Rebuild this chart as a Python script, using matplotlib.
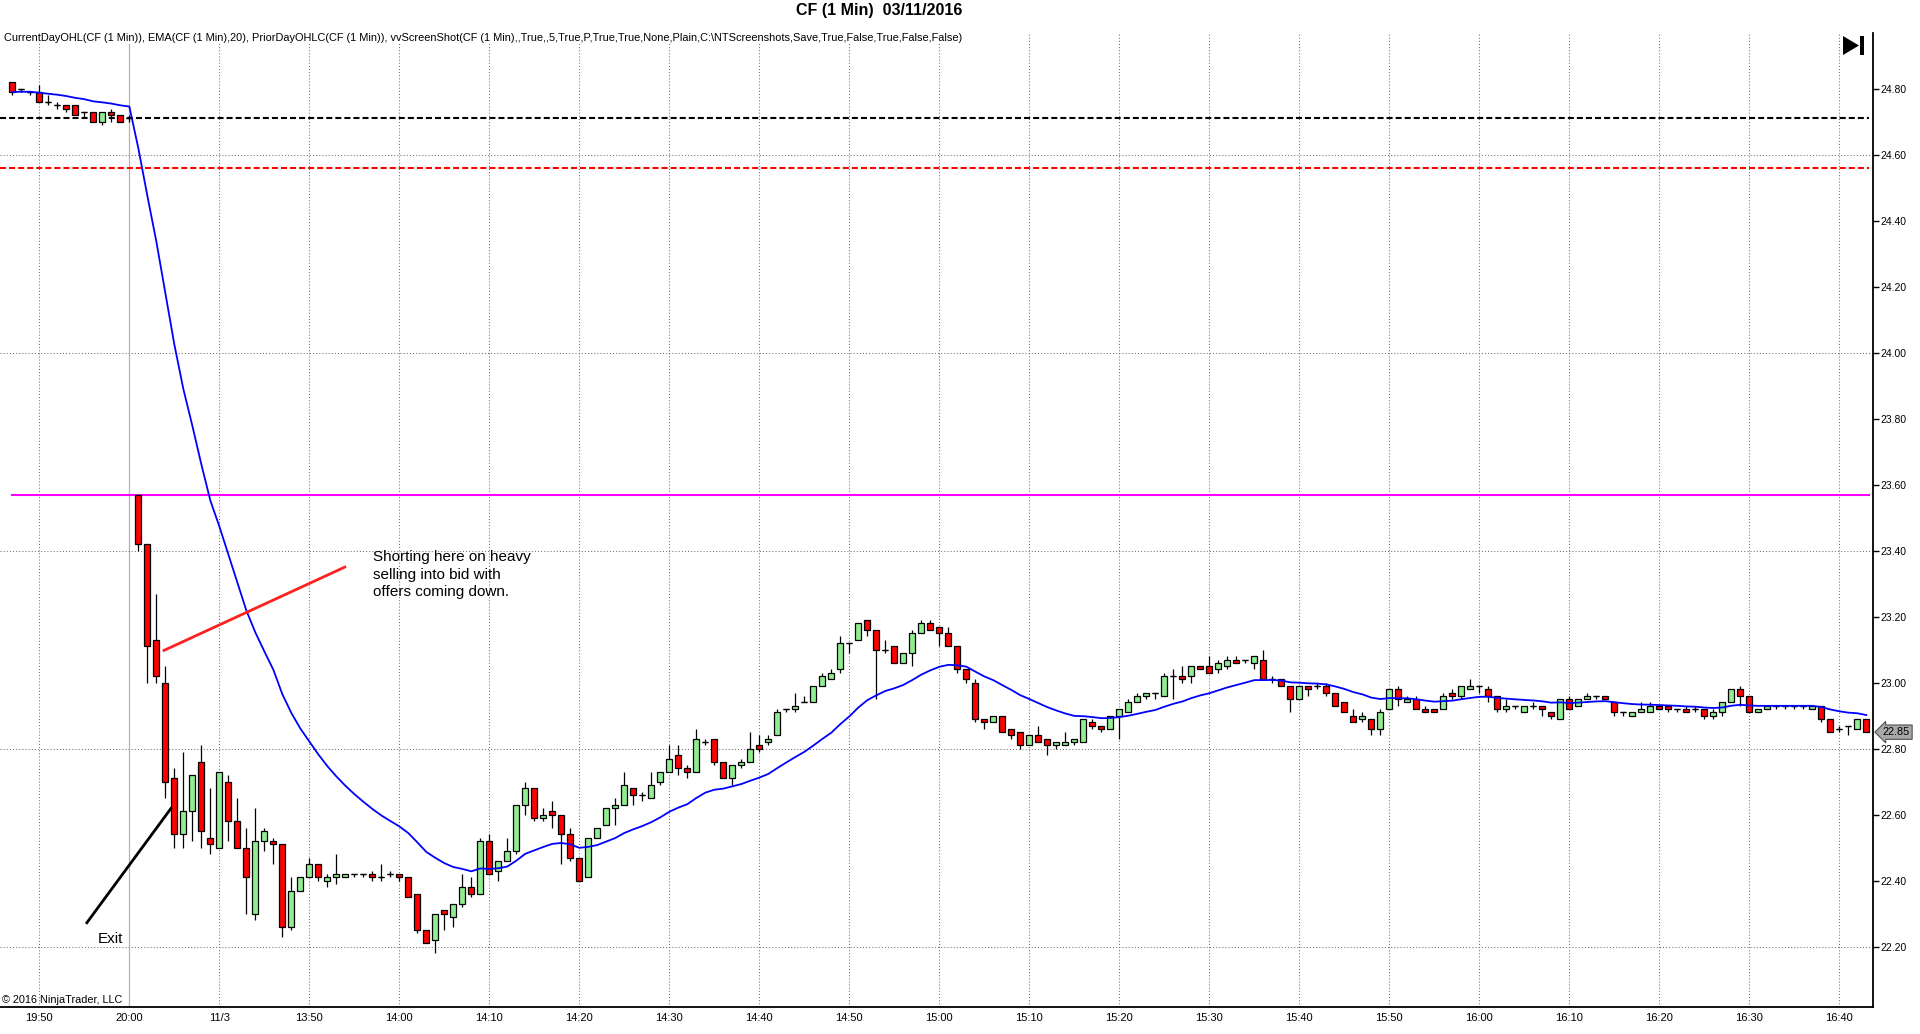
import numpy as np
import pandas as pd
import matplotlib
matplotlib.use("Agg")
import matplotlib.pyplot as plt
from matplotlib.patches import Polygon, Rectangle

plt.rcParams['font.family'] = ['Liberation Sans', 'DejaVu Sans']

# ---------------- data (1-minute bars) ----------------
opens = [24.82,24.80,24.79,24.79,24.76,24.75,24.75,24.75,24.73,24.73,24.70,24.73,24.72,24.71,
         23.57,23.42,23.13,23.00,22.71,22.54,22.61,22.76,22.53,22.50,22.70,22.58,22.50,22.30,22.52,22.52,22.51,22.26,22.37,22.41,
         22.45,22.40,22.41,22.41,22.42,22.42,22.42,22.41,22.42,22.42,
         22.41,22.36,22.25,22.22,22.31,22.29,22.33,22.38,22.36,22.52,22.43,22.46,22.49,22.63,22.68,22.59,22.61,22.60,22.54,22.47,
         22.41,22.53,22.57,22.62,22.63,22.68,22.66,22.65,22.70,22.73,
         22.78,22.74,22.73,22.82,22.83,22.76,22.71,22.75,22.76,22.81,22.82,22.84,22.92,22.92,22.94,22.94,22.99,23.01,23.04,23.12,
         23.13,23.19,23.16,23.10,23.11,23.06,23.09,23.15,23.18,23.17,
         23.15,23.11,23.04,23.00,22.89,22.88,22.90,22.86,22.85,22.81,22.84,22.83,22.81,22.81,22.82,22.82,22.88,22.87,22.86,22.90,
         22.91,22.94,22.96,22.97,22.96,23.02,23.02,23.02,23.05,23.05,
         23.04,23.05,23.07,23.07,23.06,23.07,23.01,23.01,22.99,22.95,22.99,22.99,22.99,22.97,22.94,22.90,22.89,22.89,22.86,22.92,
         22.98,22.94,22.95,22.92,22.92,22.92,22.97,22.96,22.98,22.99,
         22.98,22.96,22.92,22.93,22.91,22.93,22.93,22.91,22.89,22.95,22.93,22.95,22.96,22.96,22.94,22.91,22.90,22.91,22.91,22.93,
         22.93,22.92,22.92,22.92,22.92,22.90,22.91,22.94,22.98,22.96,
         22.91,22.92,22.93,22.93,22.93,22.93,22.92,22.93,22.89,22.86,22.87,22.86,22.89]
highs = [24.82,24.80,24.79,24.81,24.78,24.76,24.75,24.75,24.73,24.73,24.73,24.74,24.72,24.72,
         23.57,23.42,23.27,23.05,22.74,22.79,22.72,22.81,22.68,22.73,22.72,22.65,22.56,22.62,22.56,22.53,22.51,22.41,22.41,22.47,
         22.45,22.42,22.48,22.42,22.42,22.42,22.43,22.45,22.43,22.42,
         22.41,22.36,22.25,22.30,22.31,22.33,22.42,22.41,22.53,22.54,22.46,22.53,22.63,22.70,22.68,22.62,22.64,22.60,22.56,22.47,
         22.53,22.56,22.62,22.65,22.73,22.68,22.67,22.73,22.73,22.81,
         22.81,22.75,22.86,22.83,22.83,22.76,22.75,22.77,22.85,22.84,22.84,22.92,22.92,22.97,22.96,22.99,23.03,23.04,23.14,23.12,
         23.18,23.19,23.16,23.13,23.11,23.09,23.16,23.19,23.19,23.17,
         23.17,23.11,23.04,23.01,22.89,22.90,22.90,22.86,22.85,22.84,22.87,22.83,22.82,22.85,22.83,22.89,22.89,22.87,22.90,22.92,
         22.95,22.97,22.97,22.97,23.03,23.04,23.05,23.05,23.05,23.08,
         23.07,23.08,23.08,23.07,23.08,23.10,23.02,23.01,22.99,22.99,22.99,23.00,23.00,22.97,22.94,22.92,22.91,22.89,22.92,22.98,
         22.99,22.96,22.96,22.93,22.92,22.97,22.98,22.99,23.01,22.99,
         22.99,22.96,22.95,22.93,22.93,22.94,22.93,22.91,22.95,22.96,22.95,22.97,22.96,22.96,22.94,22.91,22.91,22.94,22.94,22.93,
         22.93,22.92,22.93,22.93,22.92,22.92,22.94,22.98,22.99,22.96,
         22.92,22.93,22.93,22.93,22.93,22.93,22.93,22.93,22.89,22.87,22.87,22.89,22.89]
lows = [24.78,24.79,24.78,24.76,24.75,24.74,24.73,24.72,24.71,24.70,24.69,24.70,24.70,24.70,
        23.40,23.00,23.00,22.65,22.50,22.50,22.52,22.50,22.48,22.50,22.52,22.50,22.30,22.28,22.49,22.45,22.23,22.25,22.37,22.41,
        22.40,22.38,22.39,22.41,22.41,22.41,22.40,22.40,22.41,22.40,
        22.35,22.24,22.21,22.18,22.25,22.26,22.32,22.35,22.36,22.42,22.40,22.46,22.48,22.60,22.58,22.58,22.56,22.45,22.46,22.40,
        22.41,22.53,22.57,22.57,22.63,22.63,22.64,22.65,22.69,22.73,
        22.72,22.71,22.73,22.81,22.75,22.71,22.69,22.74,22.76,22.79,22.81,22.84,22.91,22.91,22.94,22.94,22.99,23.01,23.03,23.09,
        23.13,23.14,22.95,23.09,23.06,23.06,23.05,23.15,23.16,23.11,
        23.11,23.03,23.00,22.88,22.86,22.88,22.85,22.83,22.80,22.81,22.82,22.78,22.80,22.81,22.81,22.82,22.86,22.85,22.86,22.83,
        22.91,22.94,22.95,22.95,22.96,22.95,23.00,23.00,23.04,23.03,
        23.03,23.04,23.06,23.06,23.04,23.01,23.00,22.99,22.91,22.95,22.96,22.98,22.96,22.93,22.91,22.88,22.88,22.84,22.84,22.92,
        22.93,22.94,22.92,22.91,22.91,22.92,22.95,22.95,22.98,22.97,
        22.94,22.91,22.91,22.92,22.91,22.92,22.90,22.89,22.89,22.92,22.93,22.95,22.95,22.95,22.90,22.90,22.90,22.91,22.91,22.92,
        22.91,22.91,22.91,22.91,22.89,22.89,22.90,22.94,22.93,22.91,
        22.91,22.92,22.92,22.92,22.92,22.92,22.92,22.88,22.85,22.85,22.84,22.86,22.85]
closes = [24.79,24.80,24.79,24.76,24.76,24.75,24.74,24.72,24.73,24.70,24.73,24.72,24.70,24.71,
          23.42,23.11,23.02,22.70,22.54,22.61,22.72,22.55,22.51,22.73,22.58,22.50,22.41,22.52,22.55,22.51,22.26,22.37,22.41,22.45,
          22.41,22.41,22.42,22.42,22.42,22.42,22.41,22.41,22.42,22.41,
          22.35,22.25,22.21,22.30,22.30,22.33,22.38,22.36,22.52,22.42,22.46,22.49,22.63,22.68,22.59,22.60,22.60,22.54,22.47,22.40,
          22.53,22.56,22.62,22.63,22.69,22.66,22.66,22.69,22.73,22.77,
          22.74,22.73,22.83,22.82,22.76,22.71,22.75,22.76,22.80,22.80,22.83,22.91,22.92,22.93,22.94,22.99,23.02,23.03,23.12,23.12,
          23.18,23.16,23.10,23.10,23.06,23.09,23.15,23.18,23.16,23.15,
          23.11,23.04,23.01,22.89,22.88,22.90,22.85,22.84,22.81,22.84,22.82,22.81,22.82,22.82,22.83,22.89,22.87,22.86,22.90,22.92,
          22.94,22.96,22.97,22.97,23.02,23.02,23.01,23.05,23.04,23.03,
          23.06,23.07,23.06,23.07,23.08,23.01,23.01,22.99,22.95,22.99,22.98,22.99,22.97,22.93,22.91,22.88,22.90,22.86,22.91,22.98,
          22.95,22.95,22.92,22.91,22.91,22.96,22.96,22.99,22.99,22.99,
          22.96,22.92,22.93,22.93,22.93,22.93,22.92,22.90,22.95,22.92,22.95,22.96,22.96,22.95,22.91,22.91,22.91,22.92,22.93,22.92,
          22.92,22.92,22.91,22.92,22.90,22.91,22.94,22.98,22.96,22.91,
          22.92,22.93,22.93,22.93,22.93,22.93,22.93,22.89,22.85,22.86,22.87,22.89,22.85]

tick_labels = ["19:50", "20:00", "11/3", "13:50", "14:00", "14:10", "14:20", "14:30", "14:40",
               "14:50", "15:00", "15:10", "15:20", "15:30", "15:40", "15:50", "16:00", "16:10",
               "16:20", "16:30", "16:40"]
first_tick_bar = 3          # bar index of the 19:50 bar
session_break_tick = 1      # "20:00" -> day separator
prior_day_low = 24.71       # black dashed
prior_day_close = 24.56     # red dashed
current_day_open = 23.57    # magenta
ema_period = 20
last_price = closes[-1]

title = "CF (1 Min)  03/11/2016"
indicator_text = ("CurrentDayOHL(CF (1 Min)), EMA(CF (1 Min),20), PriorDayOHLC(CF (1 Min)), "
                  "vvScreenShot(CF (1 Min),,True,,5,True,P,True,True,None,Plain,C:\\NTScreenshots,"
                  "Save,True,False,True,False,False)")
note_text = "Shorting here on heavy\nselling into bid with\noffers coming down."

# ---------------- figure ----------------
W, H = 1920, 1034
fig = plt.figure(figsize=(W / 100, H / 100), dpi=100)
ax = fig.add_axes([0, 27 / H, 1873 / W, (1007 - 33) / H])

o = np.array(opens); h = np.array(highs); l = np.array(lows); c = np.array(closes)
n = len(c)
x = np.arange(n)

ax.set_xlim(-1.37, n - 0.26)
ax.set_ylim(22.017, 24.969)

# grid
tick_pos = np.arange(first_tick_bar, n, 10)[:len(tick_labels)]
for k, tp in enumerate(tick_pos):
    if k == session_break_tick:
        ax.axvline(tp, color="#b4b4b4", lw=0.9, zorder=0)
    else:
        ax.axvline(tp, color="#707070", lw=0.75, ls=(0, (1, 2)), zorder=0)
for gy in [22.2, 22.8, 23.4, 24.0, 24.6]:
    ax.axhline(gy, color="#707070", lw=0.75, ls=(0, (1, 2)), zorder=0)

# prior day / current day lines
xr = n - 0.7
ax.plot([-1.37, xr], [prior_day_low] * 2, color="black", lw=1.5, ls=(0, (2.9, 1.45)), zorder=1)
ax.plot([-1.37, xr], [prior_day_close] * 2, color="#ff0000", lw=1.5, ls=(0, (2.9, 1.45)), zorder=1)
ax.plot([x[0], xr], [current_day_open, current_day_open], color="#ff00ff", lw=1.5, zorder=1)

# candles
ax.vlines(x, l, h, color="black", lw=0.9, zorder=2)
up = c >= o
body_bottom = np.minimum(o, c)
body_h = np.abs(c - o)
ax.bar(x[up], body_h[up], bottom=body_bottom[up], width=0.68, color="#90ee90",
       edgecolor="black", linewidth=0.9, zorder=3)
ax.bar(x[~up], body_h[~up], bottom=body_bottom[~up], width=0.68, color="#ff0000",
       edgecolor="black", linewidth=0.9, zorder=3)
doji = body_h < 1e-9
ax.hlines(c[doji], x[doji] - 0.34, x[doji] + 0.34, color="black", lw=0.9, zorder=3)

# EMA(20)
ema = pd.Series(c).ewm(span=ema_period, adjust=False).mean().to_numpy()
ax.plot(x, ema, color="#0000ff", lw=1.3, zorder=4)

# annotations
ax.plot([16.71, 37.08], [23.096, 23.352], color="#ff2020", lw=2.0, solid_capstyle="butt", zorder=5)
ax.plot([8.19, 17.71], [22.269, 22.622], color="black", lw=2.0, solid_capstyle="butt", zorder=5)
ax.text(40.1, 23.402, note_text, fontsize=11, va="top", ha="left", linespacing=1.33, zorder=6)
ax.text(9.5, 22.222, "Exit", fontsize=11, va="center", ha="left", zorder=6)

# axes styling
for s in ["left", "top"]:
    ax.spines[s].set_visible(False)
ax.spines["bottom"].set_linewidth(1.3)
ax.spines["right"].set_linewidth(1.3)
ax.yaxis.tick_right()
yt = np.round(np.arange(22.2, 24.81, 0.2), 2)
ax.set_yticks(yt)
ax.set_yticklabels([f"{v:.2f}" for v in yt])
ax.tick_params(axis="y", direction="out", length=4, width=1, labelsize=7.5, pad=1.5)
ax.set_xticks(tick_pos)
ax.set_xticklabels(tick_labels)
ax.tick_params(axis="x", length=0, labelsize=8, pad=4.5)

# last price marker
ax.annotate(f"{last_price:.2f}", xy=(1.0, last_price), xycoords=("axes fraction", "data"),
            xytext=(7, 0), textcoords="offset points", fontsize=7.8, va="center", ha="left",
            bbox=dict(boxstyle="larrow,pad=0.2", fc="#a8a8a8", ec="#505050", lw=0.8),
            annotation_clip=False, zorder=7)

# texts
fig.text(879 / W, 1 - 10 / H, title, ha="center", va="center", fontsize=11.5, fontweight="bold")
ax.text(4 / 1873, 1.0, indicator_text, transform=ax.transAxes, fontsize=7.9, va="top", ha="left",
        bbox=dict(fc="white", ec="none", pad=0.5), zorder=8)
ax.text(2 / 1873, 2 / 974, "\u00a9 2016 NinjaTrader, LLC", transform=ax.transAxes, fontsize=7.8,
        va="bottom", ha="left", zorder=8)

# "go to end" icon
def fx(px): return px / W
def fy(py): return 1 - py / H
fig.add_artist(Polygon([(fx(1843), fy(36)), (fx(1843), fy(55)), (fx(1859), fy(45.5))],
                       closed=True, transform=fig.transFigure, fc="black", ec="none"))
fig.add_artist(Rectangle((fx(1860), fy(55)), fx(4), 19 / H, transform=fig.transFigure, fc="black", ec="none"))

fig.savefig("out.png", dpi=100, facecolor="white")
